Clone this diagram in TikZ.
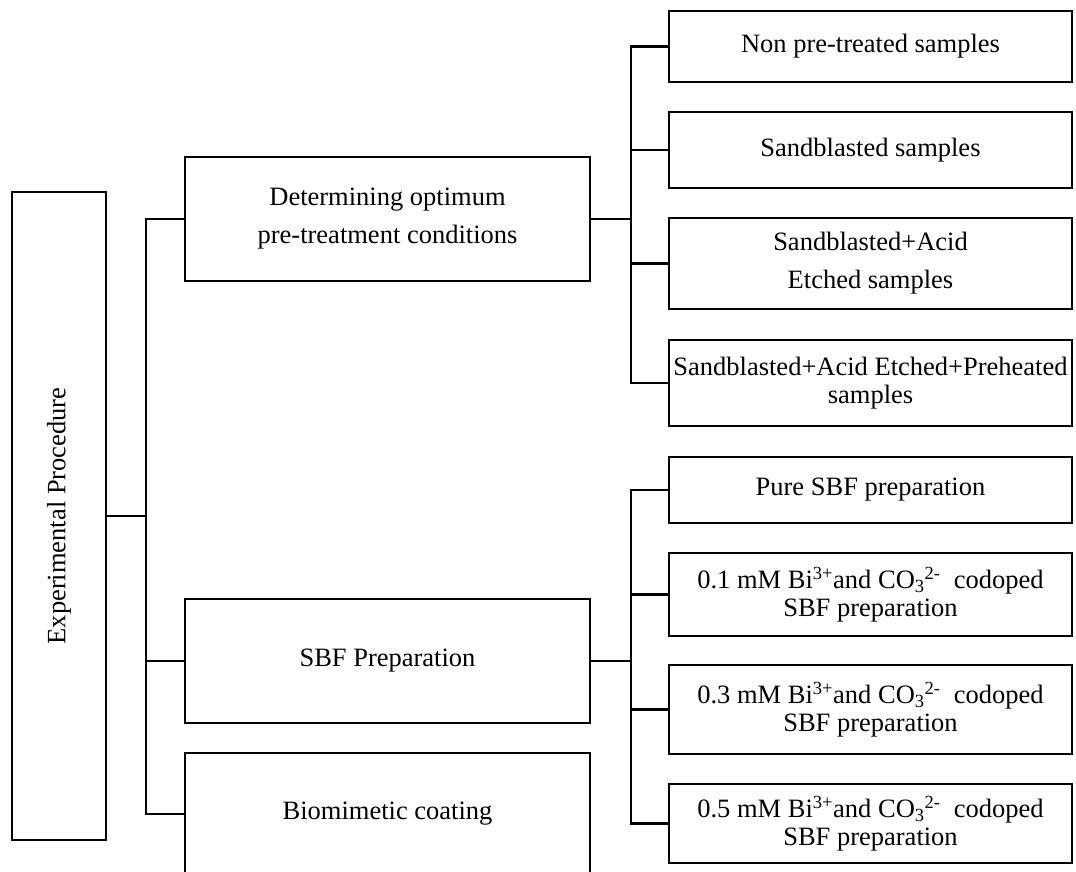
\documentclass[tikz,border=0pt]{standalone}
\usepackage{fontspec}
\setmainfont{Liberation Serif}
\usepackage{tikz}

\tikzset{
	box/.style={draw, line width=2pt, rectangle, inner sep=0pt, align=center,
		font=\fontsize{26.5}{28}\selectfont},
	loose/.style={font=\fontsize{26.5}{38}\selectfont},
	link/.style={line width=2.2pt}
}
\newcommand{\codoped}[1]{#1 mM Bi\textsuperscript{3+}and CO\textsubscript{3}\textsuperscript{2-}~ codoped\\SBF preparation}

\begin{document}
\begin{tikzpicture}[x=1pt, y=-1pt]
	\useasboundingbox (0,0) rectangle (1076,872);
	% root
	\node[box, minimum width=94, minimum height=648] (main) at (59,516) {\rotatebox{90}{Experimental Procedure}};
	% second level
	\node[box, loose, minimum width=405, minimum height=124] (pre) at (387.5,219) {Determining optimum\\pre-treatment conditions};
	\node[box, minimum width=405, minimum height=124] (sbf) at (387.5,661) {SBF Preparation};
	\node[box, minimum width=405, minimum height=122] (bio) at (387.5,814) {Biomimetic coating};
	% pre-treatment branch
	\node[box, minimum width=403, minimum height=71] (non) at (870.5,46.5) {Non pre-treated samples};
	\node[box, minimum width=403, minimum height=76] (sand) at (870.5,150) {Sandblasted samples};
	\node[box, loose, minimum width=403, minimum height=91] (acid) at (870.5,263.5) {Sandblasted+Acid\\Etched samples};
	\node[box, minimum width=403, minimum height=86] (heat) at (870.5,383) {Sandblasted+Acid Etched+Preheated\\samples};
	% SBF branch
	\node[box, minimum width=403, minimum height=66] (pure) at (870.5,490) {Pure SBF preparation};
	\node[box, minimum width=403, minimum height=83] (one) at (870.5,594.5) {\codoped{0.1}};
	\node[box, minimum width=403, minimum height=89] (three) at (870.5,709.5) {\codoped{0.3}};
	\node[box, minimum width=403, minimum height=79] (five) at (870.5,823.5) {\codoped{0.5}};
	% connectors
	\foreach \n in {pre,sbf,bio} \draw[link] (main.east) -- ++(39,0) |- (\n.west);
	\foreach \n in {non,sand,acid,heat} \draw[link] (pre.east) -- ++(40,0) |- (\n.west);
	\foreach \n in {pure,one,three,five} \draw[link] (sbf.east) -- ++(40,0) |- (\n.west);
\end{tikzpicture}
\end{document}
